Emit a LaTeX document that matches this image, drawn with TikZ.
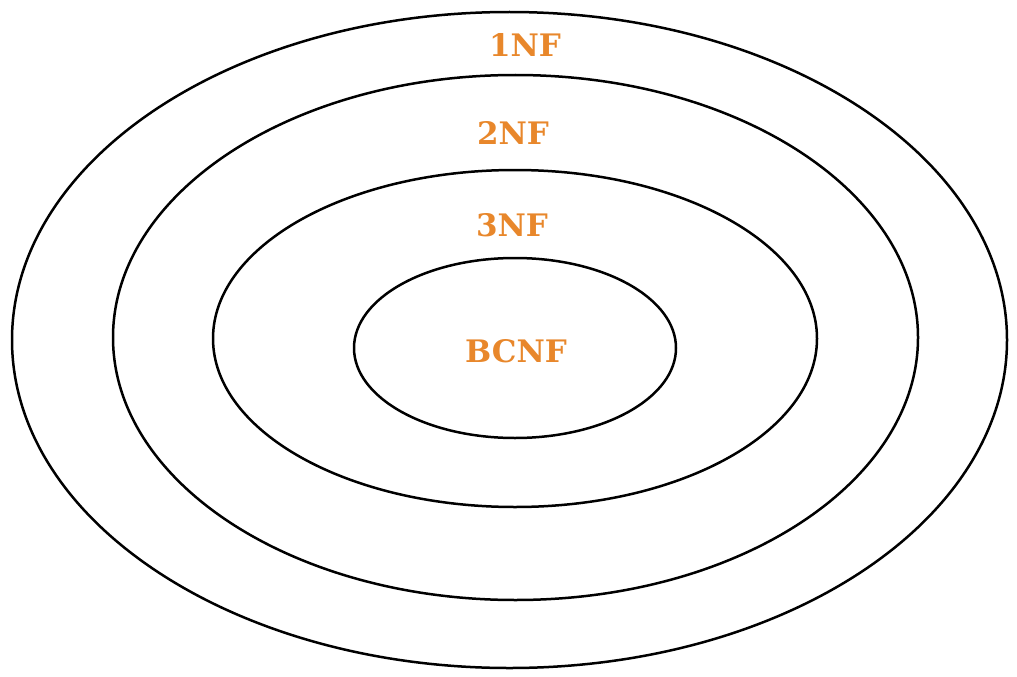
\documentclass[tikz,border=0pt]{standalone}
\usepackage{fontspec}
\setmainfont{DejaVu Serif}
\usepackage{xcolor}
\definecolor{nforange}{HTML}{E8872B}
\usetikzlibrary{positioning}

\begin{document}
\begin{tikzpicture}[
    x=1pt, y=-1pt,
    ring/.style={draw=black, line width=2.5pt},
    nflabel/.style={font=\fontsize{31}{33}\selectfont\bfseries, text=nforange, inner sep=0pt},
]
\useasboundingbox (0,0) rectangle (1017,677);

% --- Nested normal-form ellipses ---
\coordinate (cOne)   at (509.5, 340);
\coordinate (cTwo)   at (515.5, 337.5);
\coordinate (cThree) at (515, 338.5);
\coordinate (cBC)    at (515, 348);

\draw[ring] (cOne)   ellipse [x radius=497.5, y radius=328];
\draw[ring] (cTwo)   ellipse [x radius=402.5, y radius=262.5];
\draw[ring] (cThree) ellipse [x radius=302,   y radius=168.5];
\draw[ring] (cBC)    ellipse [x radius=161,   y radius=90];

% --- Labels ---
\node[nflabel] (oneNF)   at (525, 45)  {1NF};
\node[nflabel] (twoNF)   at (513, 133) {2NF};
\node[nflabel] (threeNF) at (512, 225) {3NF};
\node[nflabel] (bcnf)    at (516, 351) {BCNF};
\end{tikzpicture}
\end{document}
